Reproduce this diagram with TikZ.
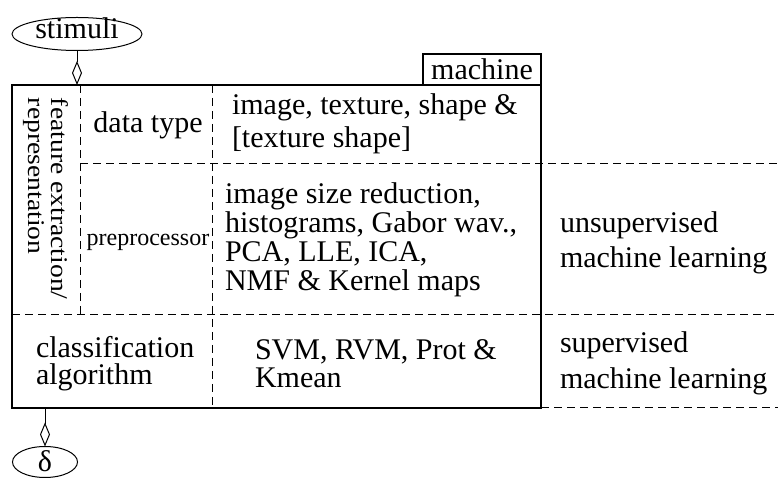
\documentclass[tikz,border=0pt]{standalone}
\usepackage{fontspec}
\setmainfont{Liberation Serif}
\usetikzlibrary{shapes.geometric, arrows.meta, positioning}

\begin{document}
\begin{tikzpicture}[
    x=0.5pt, y=-0.5pt,
    line width=0.5pt,
    every node/.style={inner sep=0pt, outer sep=0pt},
    bigtext/.style={font=\fontsize{15}{#1}\selectfont, align=left, anchor=north west},
    divider/.style={dash pattern=on 4pt off 2.5pt, line width=0.5pt},
    terminal/.style={draw, ellipse, font=\fontsize{15}{18}\selectfont},
    frame/.style={draw, line width=1pt},
    conn/.style={-{Diamond[open, length=12pt, width=5pt]}}
]
    \useasboundingbox (0,0) rectangle (778,480);

    % Machine frame and its tag
    \node (machinebox) [frame, minimum width=264.5pt, minimum height=161.5pt] at (276.5, 246.5) {};
    \node (machinetag) [frame, anchor=south east, minimum width=59pt, minimum height=15.5pt, font=\fontsize{15}{18}\selectfont] at (machinebox.north east) {machine};

    % Dividers
    \draw [divider] (80, 85) -- (80, 315);
    \draw [divider] (212, 85) -- (212, 408);
    \draw [divider] (80, 164) -- (778, 164);
    \draw [divider] (12, 315) -- (778, 315);
    \draw [divider] (541, 408) -- (778, 408);

    % Feature extraction part
    \node (featlabel) [rotate=-90, xscale=1.15, anchor=north west, align=left, font=\fontsize{12}{11.5}\selectfont] at (68, 98) {feature extraction/\\representation};
    \node (datatype) [font=\fontsize{15}{18}\selectfont] at (148, 125) {data type};
    \node (datalist) [bigtext=16.5pt] at (232, 93.5) {image, texture, shape \&\\\relax[texture shape]};
    \node (prelabel) [font=\fontsize{12}{14}\selectfont] at (148, 242) {preprocessor};
    \node (prelist) [bigtext=14.5pt] at (225, 182.5) {image size reduction,\\histograms, Gabor wav.,\\PCA, LLE, ICA,\\NMF \& Kernel maps};

    % Classification part
    \node (classlabel) [bigtext=13.5pt] at (36, 336.5) {classification\\algorithm};
    \node (classlist) [bigtext=14pt] at (255, 340) {SVM, RVM, Prot \&\\Kmean};

    % Learning types
    \node (unsup) [bigtext=17.5pt] at (560, 211.5) {unsupervised\\machine learning};
    \node (sup) [bigtext=18pt] at (560, 331.5) {supervised\\machine learning};

    % Input and output
    \node (stimuli) [terminal, minimum width=65pt, minimum height=16.5pt, text height=5pt, text depth=0pt] at (77, 34) {stimuli};
    \node (delta) [terminal, minimum width=32.5pt, minimum height=15.5pt, text height=10pt, text depth=0pt] at (45, 462) {δ};
    \draw [conn] (stimuli.south) -- (stimuli.south |- machinebox.north);
    \draw [conn] (delta.north |- machinebox.south) -- (delta.north);

\end{tikzpicture}
\end{document}
